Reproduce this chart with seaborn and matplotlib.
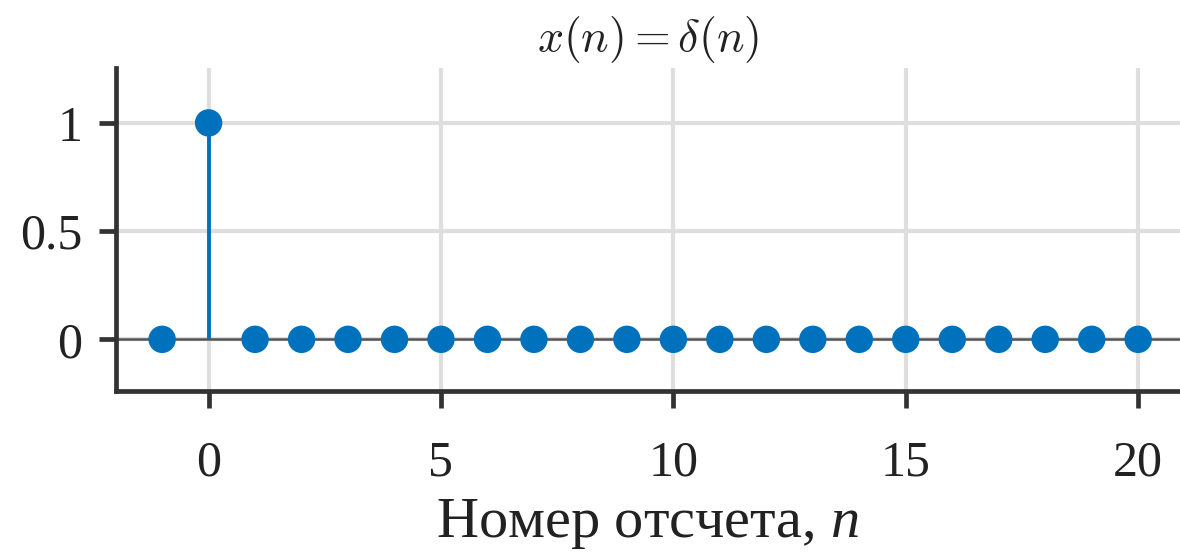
import numpy as np
import pandas as pd
import seaborn as sns
import matplotlib.pyplot as plt

# samples of the unit impulse
n = [-1, 0, 1, 2, 3, 4, 5, 6, 7, 8, 9, 10, 11, 12, 13, 14, 15, 16, 17, 18, 19, 20]
x = [0, 1, 0, 0, 0, 0, 0, 0, 0, 0, 0, 0, 0, 0, 0, 0, 0, 0, 0, 0, 0, 0]
xticks = [0, 5, 10, 15, 20]
yticks = [0, 0.5, 1]
ytick_labels = ['0', '0.5', '1']

df = pd.DataFrame({'n': n, 'x': x})

sns.set_theme(style='ticks')
plt.rcParams['font.family'] = ['Liberation Serif', 'DejaVu Serif']
plt.rcParams['mathtext.fontset'] = 'custom'
plt.rcParams['mathtext.it'] = 'Liberation Serif:italic'
plt.rcParams['mathtext.rm'] = 'Liberation Serif'

blue = '#0072BD'
dark = '#333333'

fig = plt.figure(figsize=(11.8, 5.55), dpi=100)
ax = fig.add_axes([0.098, 0.295, 0.902, 0.583])

ax.grid(True, color='#dedede', linewidth=3, zorder=0)
ax.axhline(0, color='#555555', linewidth=1.8, zorder=1)
ax.vlines(df['n'], 0, df['x'], color=blue, linewidth=2.8, zorder=2)
sns.scatterplot(data=df, x='n', y='x', ax=ax, color=blue, s=390,
                edgecolor='none', zorder=3, legend=False)

ax.set_xlim(-2, 20.9)
ax.set_ylim(-0.24, 1.255)
ax.set_xticks(xticks)
ax.set_yticks(yticks)
ax.set_yticklabels(ytick_labels)

for side in ['top', 'right']:
    ax.spines[side].set_visible(False)
for side in ['left', 'bottom']:
    ax.spines[side].set_color(dark)
    ax.spines[side].set_linewidth(3.4)
ax.tick_params(axis='both', direction='out', length=12, width=3.4, color=dark,
               labelsize=36, labelcolor='#222222')
ax.tick_params(axis='x', pad=23)
ax.tick_params(axis='y', pad=12)

ax.set_xlabel(r'Номер отсчета, $n$', fontsize=42, color='#222222', labelpad=8)
ax.set_ylabel('')
ax.set_title(r'$x(n) = \delta(n)$', fontsize=33, color='#222222',
             math_fontfamily='cm', pad=12)

fig.savefig('out.png', dpi=100)
